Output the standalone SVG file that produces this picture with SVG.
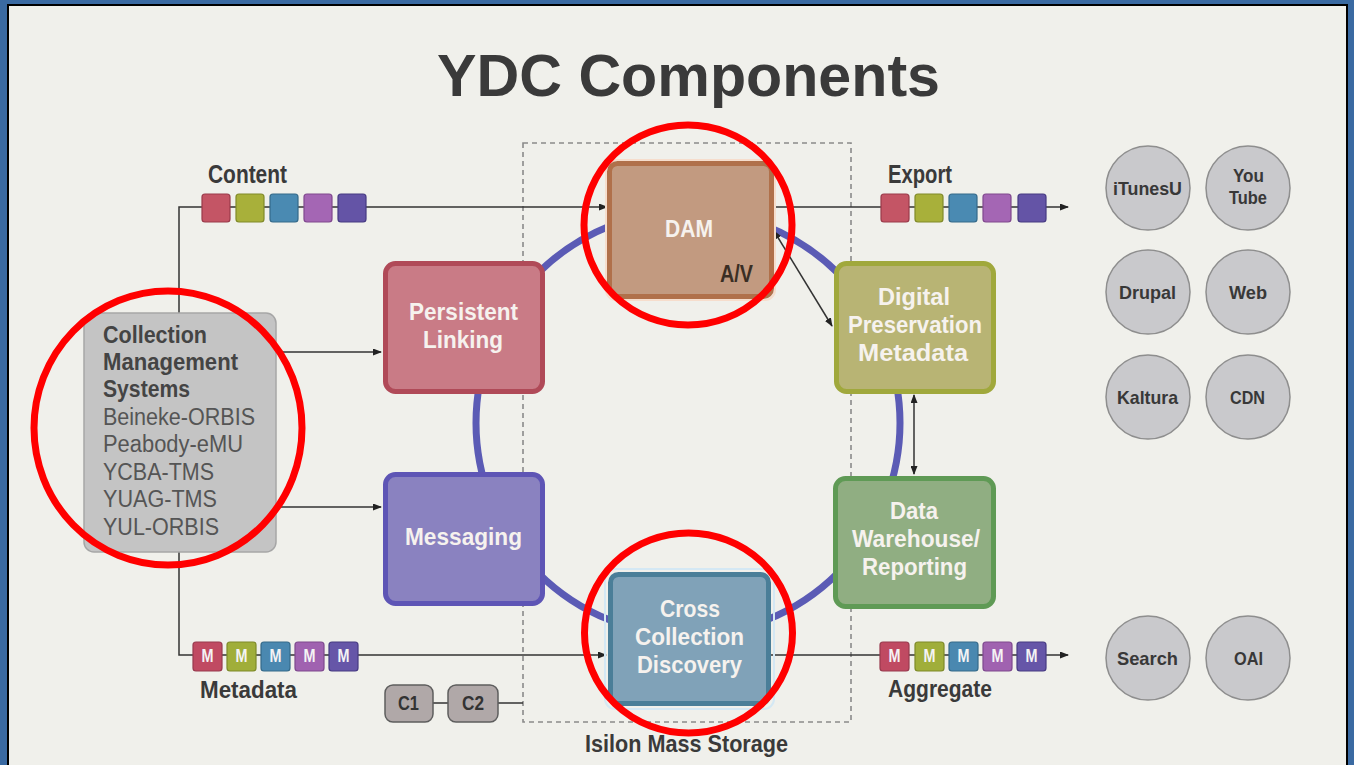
<svg xmlns="http://www.w3.org/2000/svg" width="1354" height="765" viewBox="0 0 1354 765">
<defs>
<marker id="ah" markerWidth="9" markerHeight="7" refX="8" refY="3.5" orient="auto-start-reverse" markerUnits="userSpaceOnUse">
<path d="M0,0 L9,3.5 L0,7 z" fill="#222"/>
</marker>
<style>
text{font-family:"Liberation Sans","DejaVu Sans",Arial,sans-serif;font-weight:bold}
.lbl{fill:#3a3a3a}
.nt{fill:#f6f2ee;font-size:24px}
.cms{fill:#444;font-size:23px}
.cmsr{fill:#555;font-size:23px;font-weight:normal}
.ct{fill:#383838;font-size:19px}
.mt{fill:#f4f4f4;font-size:19px}
.line{stroke:#333;stroke-width:1.5;fill:none}
.sq{stroke-width:1.2}
.circ{fill:#c9c9cc;stroke:#8e8e8e;stroke-width:1.5}
.red{fill:none;stroke:#ff0000;stroke-width:7}
.node{stroke-width:5}
</style>
</defs>

<rect x="0" y="0" width="1354" height="765" fill="#3a6aa2"/>
<rect x="8" y="5" width="1339" height="770" fill="#f0f0eb" stroke="#000" stroke-width="2"/>

<text class="lbl" x="437" y="96" font-size="59" textLength="503" lengthAdjust="spacingAndGlyphs">YDC Components</text>

<g id="storage">
<rect x="523" y="143" width="328" height="579" fill="none" stroke="#8a8a8a" stroke-width="1.6" stroke-dasharray="5,4"/>
<text class="lbl" x="585" y="752" font-size="24" textLength="203" lengthAdjust="spacingAndGlyphs">Isilon Mass Storage</text>
</g>

<g id="ring">
<circle cx="688" cy="423" r="212" fill="none" stroke="#5b5bb5" stroke-width="7"/>
</g>

<g id="connectors">
<polyline class="line" points="179,313 179,207 607,207" marker-end="url(#ah)"/>
<polyline class="line" points="179,552 179,655 606,655" marker-end="url(#ah)"/>
<line class="line" x1="276" y1="352" x2="381" y2="352" marker-end="url(#ah)"/>
<line class="line" x1="276" y1="507" x2="381" y2="507" marker-end="url(#ah)"/>
<line class="line" x1="772" y1="207" x2="1068" y2="207" marker-end="url(#ah)"/>
<line class="line" x1="771" y1="655" x2="1068" y2="655" marker-end="url(#ah)"/>
<line class="line" x1="774" y1="231" x2="832" y2="326" marker-start="url(#ah)" marker-end="url(#ah)"/>
<line class="line" x1="914" y1="395" x2="914" y2="474" marker-start="url(#ah)" marker-end="url(#ah)"/>
<polyline class="line" points="433,703 448,703"/>
<polyline class="line" points="498,703 523,703"/>
</g>

<g id="content-packets">
<text class="lbl" x="208" y="183" font-size="26" textLength="79" lengthAdjust="spacingAndGlyphs">Content</text>
<rect class="sq" x="202" y="194" width="28" height="28" rx="3" fill="#c45565" stroke="#9a3a4a"/>
<rect class="sq" x="236" y="194" width="28" height="28" rx="3" fill="#a8b03a" stroke="#808a28"/>
<rect class="sq" x="270" y="194" width="28" height="28" rx="3" fill="#4a8ab2" stroke="#356a8a"/>
<rect class="sq" x="304" y="194" width="28" height="28" rx="3" fill="#a466b4" stroke="#80488e"/>
<rect class="sq" x="338" y="194" width="28" height="28" rx="3" fill="#6454a6" stroke="#463a82"/>
</g>

<g id="export-packets">
<text class="lbl" x="888" y="183" font-size="26" textLength="64" lengthAdjust="spacingAndGlyphs">Export</text>
<rect class="sq" x="881" y="194" width="28" height="28" rx="3" fill="#c45565" stroke="#9a3a4a"/>
<rect class="sq" x="915" y="194" width="28" height="28" rx="3" fill="#a8b03a" stroke="#808a28"/>
<rect class="sq" x="949" y="194" width="28" height="28" rx="3" fill="#4a8ab2" stroke="#356a8a"/>
<rect class="sq" x="983" y="194" width="28" height="28" rx="3" fill="#a466b4" stroke="#80488e"/>
<rect class="sq" x="1018" y="194" width="28" height="28" rx="3" fill="#6454a6" stroke="#463a82"/>
</g>

<g id="metadata-packets">
<rect class="sq" x="193" y="642" width="29" height="29" rx="3" fill="#c04a62" stroke="#983a4e"/>
<rect class="sq" x="227" y="642" width="29" height="29" rx="3" fill="#a0ae3a" stroke="#7e8a28"/>
<rect class="sq" x="261" y="642" width="29" height="29" rx="3" fill="#4a88b0" stroke="#356a8a"/>
<rect class="sq" x="295" y="642" width="29" height="29" rx="3" fill="#a062b0" stroke="#7e488e"/>
<rect class="sq" x="329" y="642" width="29" height="29" rx="3" fill="#6656a8" stroke="#463a82"/>
<text class="mt" x="201.5" y="662" textLength="12" lengthAdjust="spacingAndGlyphs">M</text>
<text class="mt" x="235.5" y="662" textLength="12" lengthAdjust="spacingAndGlyphs">M</text>
<text class="mt" x="269.5" y="662" textLength="12" lengthAdjust="spacingAndGlyphs">M</text>
<text class="mt" x="303.5" y="662" textLength="12" lengthAdjust="spacingAndGlyphs">M</text>
<text class="mt" x="337.5" y="662" textLength="12" lengthAdjust="spacingAndGlyphs">M</text>
<text class="lbl" x="200" y="698" font-size="23" textLength="97" lengthAdjust="spacingAndGlyphs">Metadata</text>
</g>

<g id="aggregate-packets">
<rect class="sq" x="880" y="642" width="29" height="29" rx="3" fill="#c04a62" stroke="#983a4e"/>
<rect class="sq" x="915" y="642" width="29" height="29" rx="3" fill="#a0ae3a" stroke="#7e8a28"/>
<rect class="sq" x="949" y="642" width="29" height="29" rx="3" fill="#4a88b0" stroke="#356a8a"/>
<rect class="sq" x="983" y="642" width="29" height="29" rx="3" fill="#a062b0" stroke="#7e488e"/>
<rect class="sq" x="1017" y="642" width="29" height="29" rx="3" fill="#6656a8" stroke="#463a82"/>
<text class="mt" x="888.5" y="662" textLength="12" lengthAdjust="spacingAndGlyphs">M</text>
<text class="mt" x="923.5" y="662" textLength="12" lengthAdjust="spacingAndGlyphs">M</text>
<text class="mt" x="957.5" y="662" textLength="12" lengthAdjust="spacingAndGlyphs">M</text>
<text class="mt" x="991.5" y="662" textLength="12" lengthAdjust="spacingAndGlyphs">M</text>
<text class="mt" x="1025.5" y="662" textLength="12" lengthAdjust="spacingAndGlyphs">M</text>
<text class="lbl" x="888" y="697" font-size="23" textLength="104" lengthAdjust="spacingAndGlyphs">Aggregate</text>
</g>

<g id="cms">
<rect x="84" y="313" width="192" height="239" rx="10" fill="#c4c4c4" stroke="#a6a6a6" stroke-width="1.5"/>
<text class="cms" x="103" y="343" textLength="104" lengthAdjust="spacingAndGlyphs">Collection</text>
<text class="cms" x="103" y="370" textLength="135" lengthAdjust="spacingAndGlyphs">Management</text>
<text class="cms" x="103" y="397" textLength="87" lengthAdjust="spacingAndGlyphs">Systems</text>
<text class="cmsr" x="103" y="425" textLength="152" lengthAdjust="spacingAndGlyphs">Beineke-ORBIS</text>
<text class="cmsr" x="103" y="452" textLength="140" lengthAdjust="spacingAndGlyphs">Peabody-eMU</text>
<text class="cmsr" x="103" y="480" textLength="111" lengthAdjust="spacingAndGlyphs">YCBA-TMS</text>
<text class="cmsr" x="103" y="507" textLength="114" lengthAdjust="spacingAndGlyphs">YUAG-TMS</text>
<text class="cmsr" x="103" y="535" textLength="116" lengthAdjust="spacingAndGlyphs">YUL-ORBIS</text>
</g>

<g id="dam">
<rect x="606" y="160" width="169" height="140" rx="10" fill="none" stroke="#f6ddcc" stroke-width="2"/>
<rect class="node" x="609.5" y="163.5" width="162" height="133" rx="8" fill="#c29a80" stroke="#b0704a"/>
<text class="nt" x="665" y="237" textLength="48" lengthAdjust="spacingAndGlyphs">DAM</text>
<text x="720" y="282" font-size="24" fill="#3a2e24" textLength="33" lengthAdjust="spacingAndGlyphs">A/V</text>
</g>

<g id="persistent-linking">
<rect class="node" x="385.5" y="263.5" width="157" height="128" rx="10" fill="#c97b86" stroke="#b04a58"/>
<text class="nt" x="409" y="320" textLength="109" lengthAdjust="spacingAndGlyphs">Persistent</text>
<text class="nt" x="423" y="348" textLength="80" lengthAdjust="spacingAndGlyphs">Linking</text>
</g>

<g id="messaging">
<rect class="node" x="385.5" y="474.5" width="157" height="129" rx="10" fill="#8a82c0" stroke="#5e55b5"/>
<text class="nt" x="405" y="545" textLength="117" lengthAdjust="spacingAndGlyphs">Messaging</text>
</g>

<g id="digital-preservation">
<rect class="node" x="836.5" y="263.5" width="157" height="128" rx="10" fill="#b8b474" stroke="#a0a83c"/>
<text class="nt" x="878" y="305" textLength="72" lengthAdjust="spacingAndGlyphs">Digital</text>
<text class="nt" x="848" y="333" textLength="134" lengthAdjust="spacingAndGlyphs">Preservation</text>
<text class="nt" x="858" y="361" textLength="110" lengthAdjust="spacingAndGlyphs">Metadata</text>
</g>

<g id="data-warehouse">
<rect class="node" x="835.5" y="478.5" width="158" height="128" rx="10" fill="#90ae82" stroke="#5f9a55"/>
<text class="nt" x="890" y="519" textLength="48" lengthAdjust="spacingAndGlyphs">Data</text>
<text class="nt" x="852" y="547" textLength="128" lengthAdjust="spacingAndGlyphs">Warehouse/</text>
<text class="nt" x="862" y="575" textLength="105" lengthAdjust="spacingAndGlyphs">Reporting</text>
</g>

<g id="cross-collection">
<rect x="605" y="569" width="169" height="140" rx="10" fill="none" stroke="#d4e8f4" stroke-width="2"/>
<rect class="node" x="610.5" y="574.5" width="158" height="129" rx="8" fill="#80a2b8" stroke="#4a7e98"/>
<text class="nt" x="660" y="617" textLength="60" lengthAdjust="spacingAndGlyphs">Cross</text>
<text class="nt" x="635" y="645" textLength="109" lengthAdjust="spacingAndGlyphs">Collection</text>
<text class="nt" x="637" y="673" textLength="105" lengthAdjust="spacingAndGlyphs">Discovery</text>
</g>

<g id="c1">
<rect x="385" y="685" width="48" height="37" rx="8" fill="#b0a8a8" stroke="#5e5e5e" stroke-width="1.5"/>
<text x="398" y="710" font-size="20" fill="#333" textLength="21" lengthAdjust="spacingAndGlyphs">C1</text>
</g>
<g id="c2">
<rect x="448" y="685" width="50" height="37" rx="8" fill="#b0a8a8" stroke="#5e5e5e" stroke-width="1.5"/>
<text x="462" y="710" font-size="20" fill="#333" textLength="22" lengthAdjust="spacingAndGlyphs">C2</text>
</g>

<g id="itunesu"><circle class="circ" cx="1148" cy="188" r="42"/><text class="ct" x="1113" y="195" textLength="69" lengthAdjust="spacingAndGlyphs">iTunesU</text></g>
<g id="youtube"><circle class="circ" cx="1248" cy="188" r="42"/><text class="ct" x="1233" y="182" textLength="31" lengthAdjust="spacingAndGlyphs">You</text><text class="ct" x="1229" y="204" textLength="38" lengthAdjust="spacingAndGlyphs">Tube</text></g>
<g id="drupal"><circle class="circ" cx="1148" cy="292" r="42"/><text class="ct" x="1119" y="299" textLength="57" lengthAdjust="spacingAndGlyphs">Drupal</text></g>
<g id="web"><circle class="circ" cx="1248" cy="292" r="42"/><text class="ct" x="1229" y="299" textLength="38" lengthAdjust="spacingAndGlyphs">Web</text></g>
<g id="kaltura"><circle class="circ" cx="1148" cy="397" r="42"/><text class="ct" x="1117" y="404" textLength="61" lengthAdjust="spacingAndGlyphs">Kaltura</text></g>
<g id="cdn"><circle class="circ" cx="1248" cy="397" r="42"/><text class="ct" x="1230" y="404" textLength="35" lengthAdjust="spacingAndGlyphs">CDN</text></g>
<g id="search"><circle class="circ" cx="1148" cy="658" r="42"/><text class="ct" x="1117" y="665" textLength="61" lengthAdjust="spacingAndGlyphs">Search</text></g>
<g id="oai"><circle class="circ" cx="1248" cy="658" r="42"/><text class="ct" x="1234" y="665" textLength="29" lengthAdjust="spacingAndGlyphs">OAI</text></g>

<g id="highlights">
<ellipse class="red" cx="688" cy="225" rx="104" ry="100"/>
<ellipse class="red" cx="688.5" cy="633" rx="104" ry="100"/>
<ellipse class="red" cx="168" cy="428" rx="134" ry="137"/>
</g>
</svg>
